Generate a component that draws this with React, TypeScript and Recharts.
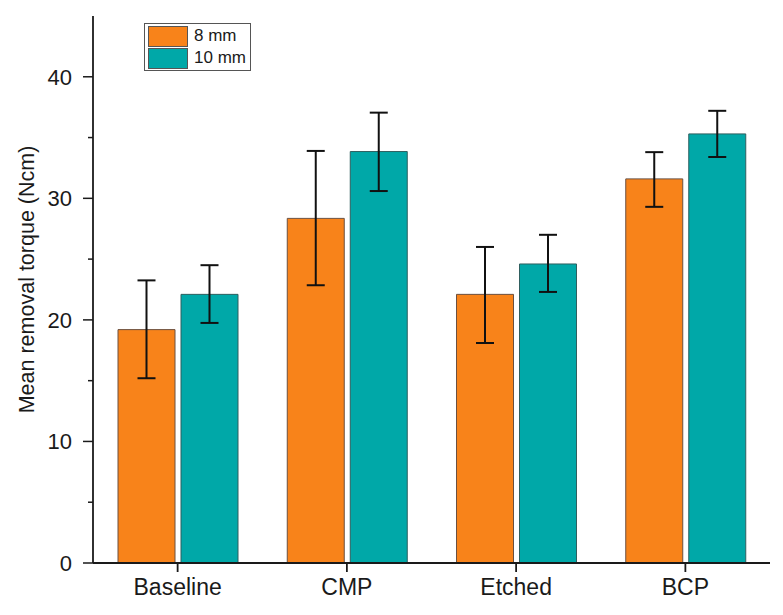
import React from 'react'
import { BarChart, Bar, XAxis, YAxis, ErrorBar, Legend } from 'recharts'

const categories = ['Baseline', 'CMP', 'Etched', 'BCP']
const seriesNames = ['8 mm', '10 mm']

const mean8 = [19.2, 28.35, 22.1, 31.6]
const low8 = [15.2, 22.85, 18.1, 29.3]
const high8 = [23.25, 33.9, 26.0, 33.8]

const mean10 = [22.1, 33.85, 24.6, 35.3]
const low10 = [19.75, 30.6, 22.3, 33.4]
const high10 = [24.5, 37.05, 27.0, 37.2]

const yTicks = [0, 5, 10, 15, 20, 25, 30, 35, 40]

const ORANGE = '#F8831A'
const TEAL = '#00A8A8'
const INK = '#1a1a1a'
const FONT = 'Arial, "Liberation Sans", sans-serif'

const data = categories.map((name, i) => ({
  name,
  mm8: mean8[i],
  err8: [mean8[i] - low8[i], high8[i] - mean8[i]],
  mm10: mean10[i],
  err10: [mean10[i] - low10[i], high10[i] - mean10[i]],
}))

const YTick = ({ x, y, payload }: any) => {
  const major = payload.value % 10 === 0
  return (
    <g>
      <line x1={x - (major ? 10 : 5)} x2={x} y1={y} y2={y} stroke={INK} strokeWidth={1.5} />
      {major && (
        <text x={x - 21} y={y} dy="0.36em" textAnchor="end" fill={INK} fontSize={22} fontFamily={FONT}>
          {payload.value}
        </text>
      )}
    </g>
  )
}

const YLabel = ({ viewBox }: any) => {
  const cy = viewBox.y + viewBox.height / 2 - 10
  const cx = 27
  return (
    <text
      x={cx}
      y={cy}
      transform={`rotate(-90, ${cx}, ${cy})`}
      textAnchor="middle"
      dominantBaseline="central"
      fill={INK}
      fontSize={21.5}
      fontFamily={FONT}
    >
      Mean removal torque (Ncm)
    </text>
  )
}

const renderLegend = ({ payload }: any) => {
  const items = [...payload].sort(
    (a: any, b: any) => seriesNames.indexOf(a.value) - seriesNames.indexOf(b.value)
  )
  return (
    <div
      style={{
        border: '1px solid #555',
        padding: '1px 4px 1px 3px',
        background: '#fff',
        fontFamily: FONT,
        fontSize: 17,
        color: INK,
      }}
    >
      {items.map((p: any) => (
        <div key={p.value} style={{ display: 'flex', alignItems: 'center', height: 22 }}>
          <span
            style={{
              display: 'inline-block',
              width: 38,
              height: 19,
              background: p.color,
              border: '1px solid #555',
              marginRight: 6,
            }}
          />
          {p.value}
        </div>
      ))}
    </div>
  )
}

export default function App() {
  return (
    <div style={{ position: 'absolute', left: 0, top: 0, background: '#fff' }}>
      <BarChart
        width={783}
        height={615}
        data={data}
        margin={{ top: 16, right: 13, bottom: 0, left: 0 }}
        barCategoryGap={25}
        barGap={6}
      >
        <XAxis
          dataKey="name"
          height={52}
          stroke={INK}
          strokeWidth={1.8}
          tickSize={9}
          tickMargin={7}
          tick={{ fill: INK, fontSize: 23, fontFamily: FONT }}
        />
        <YAxis
          width={93}
          domain={[0, 45]}
          ticks={yTicks}
          interval={0}
          stroke={INK}
          strokeWidth={1.8}
          tickLine={false}
          tickSize={0}
          tickMargin={0}
          tick={<YTick />}
          label={<YLabel />}
        />
        <Legend
          layout="vertical"
          align="center"
          verticalAlign="middle"
          content={renderLegend}
          wrapperStyle={{ top: 23, left: 144, width: 'auto', bottom: 'auto' }}
        />
        <Bar dataKey="mm8" name={seriesNames[0]} fill={ORANGE} stroke="#6b5040" strokeWidth={1} isAnimationActive={false}>
          <ErrorBar dataKey="err8" width={9} stroke="#111" strokeWidth={2} />
        </Bar>
        <Bar dataKey="mm10" name={seriesNames[1]} fill={TEAL} stroke="#2f5f5f" strokeWidth={1} isAnimationActive={false}>
          <ErrorBar dataKey="err10" width={9} stroke="#111" strokeWidth={2} />
        </Bar>
      </BarChart>
    </div>
  )
}
